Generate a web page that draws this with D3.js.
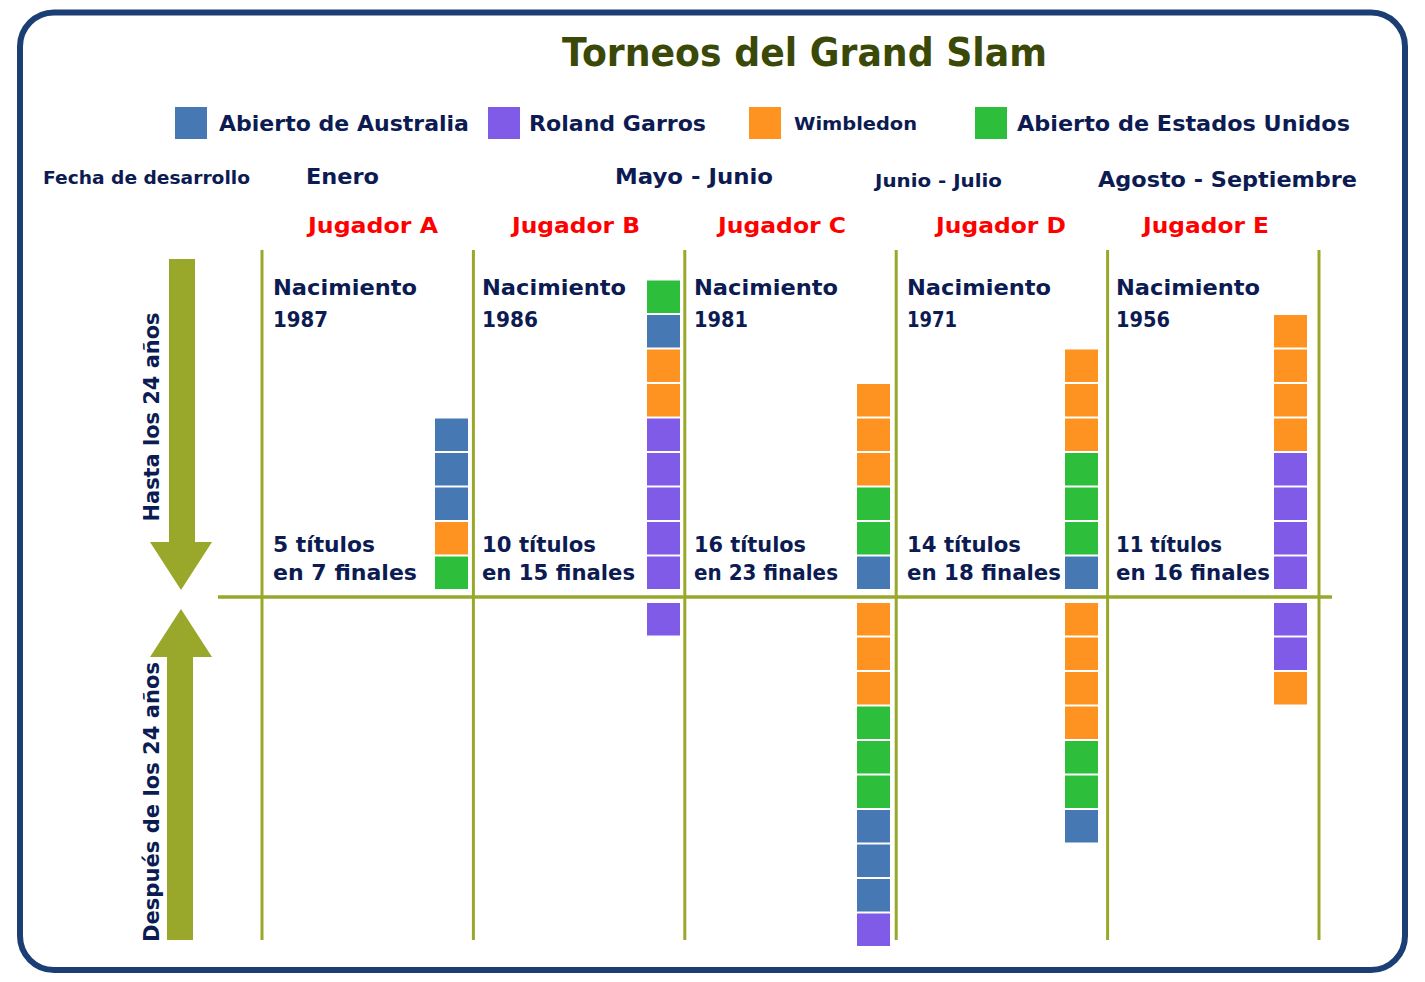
<!DOCTYPE html>
<html>
<head>
<meta charset="utf-8">
<script src="https://cdn.jsdelivr.net/npm/d3@7"></script>
<style>
  html, body { margin: 0; padding: 0; background: #ffffff; }
  svg { display: block; }
  text { font-family: "DejaVu Sans", "Open Sans", sans-serif; font-weight: 700; }
</style>
</head>
<body>
<svg id="chart" width="1425" height="982"></svg>
<script>
// ---------------- data ----------------
const chartTitle = "Torneos del Grand Slam";
const tournaments = ["Abierto de Australia", "Roland Garros", "Wimbledon", "Abierto de Estados Unidos"];
const tournamentCodes = ["AO", "RG", "W", "USO"];
const tournamentColors = ["#4679b4", "#7f5be8", "#fe9321", "#2dbf3c"];
const periodLabel = "Fecha de desarrollo";
const periods = ["Enero", "Mayo - Junio", "Junio - Julio", "Agosto - Septiembre"];
const players = ["Jugador A", "Jugador B", "Jugador C", "Jugador D", "Jugador E"];
const birthYears = [1987, 1986, 1981, 1971, 1956];
const titleCounts = [5, 10, 16, 14, 11];
const finalCounts = [7, 15, 23, 18, 16];
const ageLabels = ["Hasta los 24 años", "Después de los 24 años"];
// titles won, listed top to bottom as stacked in the picture
const titlesUpTo24 = [
  ["AO", "AO", "AO", "W", "USO"],
  ["USO", "AO", "W", "W", "RG", "RG", "RG", "RG", "RG"],
  ["W", "W", "W", "USO", "USO", "AO"],
  ["W", "W", "W", "USO", "USO", "USO", "AO"],
  ["W", "W", "W", "W", "RG", "RG", "RG", "RG"]
];
const titlesAfter24 = [
  [],
  ["RG"],
  ["W", "W", "W", "USO", "USO", "USO", "AO", "AO", "AO", "RG"],
  ["W", "W", "W", "W", "USO", "USO", "AO"],
  ["RG", "RG", "W"]
];

// ---------------- drawing ----------------
const svg = d3.select("#chart");
const navy = "#0c1b52";
const olive = "#99a82b";
const red = "#ff0000";

const color = d3.scaleOrdinal().domain(tournamentCodes).range(tournamentColors);

function txt(s, x, y, size, fill, width, anchor) {
  const t = svg.append("text")
    .attr("x", x).attr("y", y)
    .attr("font-size", size)
    .attr("fill", fill)
    .attr("text-anchor", anchor || "start")
    .text(s);
  if (width) t.attr("textLength", width).attr("lengthAdjust", "spacingAndGlyphs");
  return t;
}

// frame
svg.append("rect")
  .attr("x", 20).attr("y", 12.5)
  .attr("width", 1385).attr("height", 957.5)
  .attr("rx", 34).attr("ry", 34)
  .attr("fill", "#ffffff")
  .attr("stroke", "#1b3f74").attr("stroke-width", 6);

// title
txt(chartTitle, 804.5, 66, 39, "#3b4908", 485, "middle");

// legend
const legendSquareX = [175, 488, 749, 975];
const legendTextX = [219, 529, 794, 1017];
const legendTextW = [250, 177, 123, 333];
const legendTextSize = [22, 22, 17, 22];
tournaments.forEach((name, i) => {
  svg.append("rect")
    .attr("x", legendSquareX[i]).attr("y", 107)
    .attr("width", 32).attr("height", 32)
    .attr("fill", color(tournamentCodes[i]));
  txt(name, legendTextX[i], i === 2 ? 130 : 131, legendTextSize[i], navy, legendTextW[i]);
});

// period header
txt(periodLabel, 43, 184, 17, navy, 207);
const periodX = [306, 615, 875, 1098];
const periodW = [73, 158, 127, 259];
const periodSize = [21, 21, 17, 21];
const periodY = [184, 184, 187, 187];
periods.forEach((p, i) => txt(p, periodX[i], periodY[i], periodSize[i], navy, periodW[i]));

// column scales
const xLine = d3.scaleLinear().domain([0, players.length]).range([262, 1319]);
const xName = d3.scaleLinear().domain([0, 1, 2, 3, 4]).range([373, 576, 782, 1001, 1206]);
const xText = d3.scaleLinear().domain([0, 1, 2, 3, 4]).range([273, 482, 694, 907, 1116]);
const xSquare = d3.scaleLinear().domain([0, 1, 2, 3, 4]).range([435, 647, 857, 1065, 1274]);
const step = 34.5, sq = 32.5, sqW = 33;
const yAbove = d3.scaleLinear().domain([0, 1]).range([589, 589 - step]);   // bottom edge of i-th square above line
const yBelow = d3.scaleLinear().domain([0, 1]).range([603, 603 + step]);   // top edge of i-th square below line

// grid lines
d3.range(players.length + 1).forEach(i => {
  svg.append("line")
    .attr("x1", xLine(i)).attr("x2", xLine(i))
    .attr("y1", 250).attr("y2", 940)
    .attr("stroke", olive).attr("stroke-width", 3);
});
svg.append("line")
  .attr("x1", 218).attr("x2", 1332)
  .attr("y1", 597).attr("y2", 597)
  .attr("stroke", olive).attr("stroke-width", 3.5);

// player texts
const yearW = [55, 56, 54, 50, 54];
const titlesW = [102, 114, 112, 114, 106];
const finalsW = [144, 153, 144, 154, 154];
const nameW = [130, 128, 128, 130, 126];
players.forEach((p, i) => {
  txt(p, xName(i), 233, 21, red, nameW[i], "middle");
  const tx = xText(i);
  txt("Nacimiento", tx, 295, 22, navy, 144);
  txt(String(birthYears[i]), tx, 327, 22, navy, yearW[i]);
  txt(titleCounts[i] + " títulos", tx, 552, 22, navy, titlesW[i]);
  txt("en " + finalCounts[i] + " finales", tx, 580, 22, navy, finalsW[i]);
});

// stacks
players.forEach((p, i) => {
  const above = titlesUpTo24[i].slice().reverse(); // bottom-up
  svg.selectAll(null).data(above).enter().append("rect")
    .attr("x", xSquare(i))
    .attr("y", (d, k) => yAbove(k) - sq)
    .attr("width", sqW).attr("height", sq)
    .attr("fill", d => color(d));
  svg.selectAll(null).data(titlesAfter24[i]).enter().append("rect")
    .attr("x", xSquare(i))
    .attr("y", (d, k) => yBelow(k))
    .attr("width", sqW).attr("height", sq)
    .attr("fill", d => color(d));
});

// arrows
svg.append("path")
  .attr("d", "M169,259 L195,259 L195,542 L212,542 L181,590 L150,542 L169,542 Z")
  .attr("fill", olive);
svg.append("path")
  .attr("d", "M167,940 L193,940 L193,657 L212,657 L181,609 L150,657 L167,657 Z")
  .attr("fill", olive);

// rotated age labels
svg.append("text")
  .attr("transform", "translate(158.5,417) rotate(-90)")
  .attr("text-anchor", "middle")
  .attr("font-size", 22).attr("fill", navy)
  .attr("textLength", 209).attr("lengthAdjust", "spacingAndGlyphs")
  .text(ageLabels[0]);
svg.append("text")
  .attr("transform", "translate(158.5,802) rotate(-90)")
  .attr("text-anchor", "middle")
  .attr("font-size", 22).attr("fill", navy)
  .attr("textLength", 280).attr("lengthAdjust", "spacingAndGlyphs")
  .text(ageLabels[1]);
</script>
</body>
</html>
